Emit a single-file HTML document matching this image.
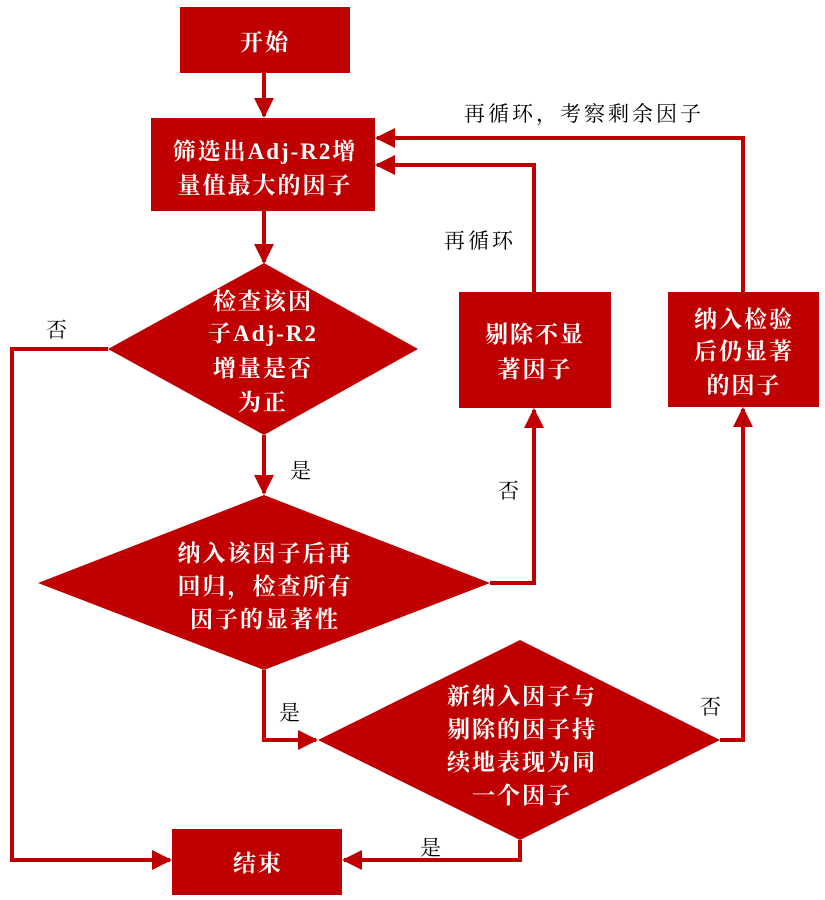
<!DOCTYPE html>
<html><head><meta charset="utf-8"><style>
html,body{margin:0;padding:0;background:#fff;}
svg{display:block}
.w{fill:#fff;font-family:"Liberation Serif","Noto Serif CJK SC",serif;font-weight:bold;font-size:23px;letter-spacing:2px}
.b{fill:#000;font-family:"Liberation Serif","Noto Serif CJK SC",serif;font-size:21px;letter-spacing:3px}
</style></head><body>
<svg width="825" height="900" viewBox="0 0 825 900" xmlns="http://www.w3.org/2000/svg">
<defs><marker id="a" markerWidth="5" markerHeight="5" refX="4.5" refY="2.5" orient="auto" markerUnits="strokeWidth"><path d="M0,0 L5,2.5 L0,5 z" fill="#c00000"/></marker></defs>
<g fill="none" stroke="#c00000" stroke-width="4">
<path d="M264 73 V116" marker-end="url(#a)"/>
<path d="M264 211 V262" marker-end="url(#a)"/>
<path d="M108 349 H12 V860 H170" marker-end="url(#a)"/>
<path d="M264 435 V493" marker-end="url(#a)"/>
<path d="M490 583 H534 V410" marker-end="url(#a)"/>
<path d="M534 292 V165 H377" marker-end="url(#a)"/>
<path d="M264 670 V740 H316" marker-end="url(#a)"/>
<path d="M720 740 H743 V409" marker-end="url(#a)"/>
<path d="M743 292 V138 H377" marker-end="url(#a)"/>
<path d="M520 840 V860 H344" marker-end="url(#a)"/>
</g>
<g fill="#c00000">
<rect x="180" y="7" width="170" height="66"/>
<rect x="151" y="118" width="224" height="93"/>
<polygon points="264,263 418,349 264,435 108,349"/>
<polygon points="264,495 490,583 264,670 38,583"/>
<rect x="459" y="292" width="152" height="116"/>
<rect x="668" y="292" width="151" height="115"/>
<polygon points="520,640 720,740 520,840 318,740"/>
<rect x="172" y="829" width="170" height="66"/>
</g>
<g class="w" text-anchor="middle">
<text x="265" y="50">开始</text>
<text x="265" y="159">筛选出Adj-R2增</text>
<text x="265" y="193">量值最大的因子</text>
<text x="263" y="309">检查该因</text>
<text x="263" y="341">子Adj-R2</text>
<text x="263" y="376">增量是否</text>
<text x="263" y="410">为正</text>
<text x="265" y="561">纳入该因子后再</text>
<text x="265" y="594">回归，检查所有</text>
<text x="265" y="627">因子的显著性</text>
<text x="535" y="342">剔除不显</text>
<text x="535" y="377">著因子</text>
<text x="744" y="327">纳入检验</text>
<text x="744" y="359">后仍显著</text>
<text x="744" y="393">的因子</text>
<text x="522" y="704">新纳入因子与</text>
<text x="522" y="737">剔除的因子持</text>
<text x="522" y="770">续地表现为同</text>
<text x="522" y="803">一个因子</text>
<text x="258" y="871">结束</text>
</g>
<g class="b" text-anchor="middle">
<text x="584" y="121">再循环，考察剩余因子</text>
<text x="480" y="248">再循环</text>
<text x="58" y="337">否</text>
<text x="302" y="478">是</text>
<text x="510" y="498">否</text>
<text x="291" y="720">是</text>
<text x="712" y="714">否</text>
<text x="432" y="855">是</text>
</g>
</svg>
</body></html>
